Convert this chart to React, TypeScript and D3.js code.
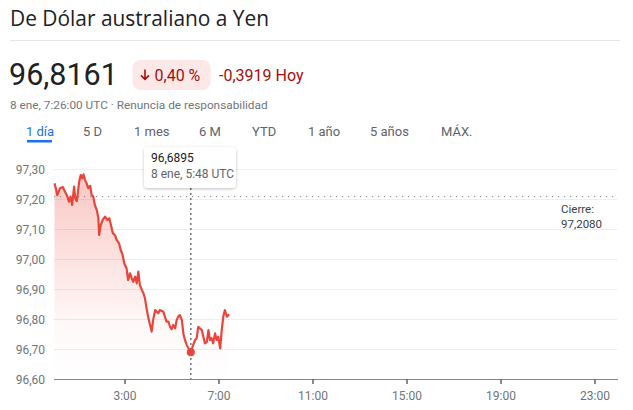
import React from "react";
import * as d3 from "d3";

const minutes = [0,4,7,14,21,27,33,37,41,45,50,53,57,63,67,71,74,78,82,86,91,95,99,103,108,112,114,118,123,129,135,140,143,149,154,159,165,169,174,178,184,188,193,197,201,206,210,214,218,223,227,231,235,239,244,248,252,257,261,265,269,274,278,282,286,291,295,299,303,308,312,316,320,325,329,333,338,342,346,350,354,359,363,367,371,376,380,384,389,393,397,401,405,410,414,418,423,427,431,435,440,444,446];
const values = [97.252,97.233,97.213,97.236,97.240,97.224,97.208,97.191,97.208,97.180,97.241,97.202,97.193,97.258,97.280,97.269,97.282,97.263,97.252,97.236,97.244,97.213,97.208,97.180,97.163,97.136,97.080,97.113,97.130,97.141,97.130,97.136,97.119,97.086,97.080,97.063,97.052,97.030,97.013,96.986,96.969,96.930,96.952,96.936,96.924,96.941,96.919,96.958,96.913,96.897,96.886,96.869,96.836,96.808,96.780,96.758,96.797,96.830,96.824,96.819,96.830,96.827,96.824,96.808,96.791,96.791,96.774,96.766,96.780,96.769,96.797,96.808,96.813,96.797,96.752,96.730,96.713,96.702,96.691,96.697,96.713,96.730,96.736,96.774,96.769,96.763,96.741,96.719,96.724,96.763,96.730,96.736,96.719,96.752,96.730,96.741,96.702,96.763,96.808,96.830,96.808,96.813,96.816];

const yTicks = [96.6, 96.7, 96.8, 96.9, 97.0, 97.1, 97.2, 97.3];
const xTickMinutes = [180, 420, 660, 900, 1140, 1380];
const xTickLabels = ["3:00", "7:00", "11:00", "15:00", "19:00", "23:00"];
const tabs = ["1 día", "5 D", "1 mes", "6 M", "YTD", "1 año", "5 años", "MÁX."];
const tabX = [26, 83, 134, 199, 252, 308, 370, 441];

const title = "De Dólar australiano a Yen";
const price = "96,8161";
const changePct = "0,40 %";
const changeAbs = "-0,3919 Hoy";
const subtitle = "8 ene, 7:26:00 UTC · Renuncia de responsabilidad";
const prevClose = 97.208;
const prevCloseLabel = "97,2080";
const hoverMinute = 348;
const hoverValue = 96.6895;
const hoverValueLabel = "96,6895";
const hoverTimeLabel = "8 ene, 5:48 UTC";

const FONT = "Roboto, Arial, sans-serif";

export default function App() {
  const x = d3.scaleLinear().domain([0, 1440]).range([54.5, 618.5]);
  const y = d3.scaleLinear().domain([96.6, 97.3]).range([379, 169]);
  const pts: [number, number][] = minutes.map((m, i) => [m, values[i]]);
  const line = d3.line<[number, number]>().x(d => x(d[0])).y(d => y(d[1]))(pts) || "";
  const area = d3.area<[number, number]>().x(d => x(d[0])).y0(y(96.6)).y1(d => y(d[1]))(pts) || "";
  const fmt = (v: number) => v.toFixed(2).replace(".", ",");
  const hx = x(hoverMinute);
  const hy = y(hoverValue);
  return (
    <svg width={633} height={410} style={{ position: "absolute", left: 0, top: 0, background: "#fff" }} fontFamily={FONT}>
      <defs>
        <linearGradient id="fillGrad" gradientUnits="userSpaceOnUse" x1={0} y1={175} x2={0} y2={379}>
          <stop offset="0" stopColor="#ea4335" stopOpacity={0.3} />
          <stop offset="0.75" stopColor="#ea4335" stopOpacity={0.03} />
          <stop offset="1" stopColor="#ea4335" stopOpacity={0} />
        </linearGradient>
        <filter id="shadow" x="-20%" y="-30%" width="140%" height="170%">
          <feDropShadow dx={0} dy={1} stdDeviation={1.5} floodColor="#000" floodOpacity={0.25} />
        </filter>
      </defs>
      <text x={10} y={26} fontSize={20.9} fontFamily="'Open Sans', Roboto, sans-serif" fill="#202124">{title}</text>
      <line x1={10} x2={620} y1={40.5} y2={40.5} stroke="#e3e5e8" />
      <text x={9} y={85} fontSize={30.5} fill="#202124">{price}</text>
      <rect x={132.5} y={60} width={78} height={30} rx={8} fill="#fce8e6" />
      <path d="M145,69.5 V79.3 M141,75.4 L145,79.4 L149,75.4" fill="none" stroke="#a50e0e" strokeWidth={1.6} />
      <text x={154.5} y={80.5} fontSize={16} fill="#a50e0e">{changePct}</text>
      <text x={219} y={80.5} fontSize={16} fill="#a50e0e">{changeAbs}</text>
      <text x={10} y={108.5} fontSize={11.8} fill="#70757a">{subtitle}</text>
      {tabs.map((t, i) => (
        <text key={t} x={tabX[i]} y={136} fontSize={13} fill={i === 0 ? "#1a73e8" : "#5f6368"}>{t}</text>
      ))}
      <rect x={27} y={140} width={25} height={2.5} fill="#1a73e8" />

      {yTicks.slice(1).map(v => (
        <line key={v} x1={54} x2={617} y1={Math.round(y(v)) + 0.5} y2={Math.round(y(v)) + 0.5} stroke="#eceef0" />
      ))}
      {yTicks.map(v => (
        <text key={"l" + v} x={45} y={y(v) + 4.5} fontSize={12} textAnchor="end" fill="#70757a">{fmt(v)}</text>
      ))}
      <path d={area} fill="url(#fillGrad)" />
      <line x1={54} x2={618} y1={y(prevClose)} y2={y(prevClose)} stroke="#80868b" strokeWidth={1} strokeDasharray="1.2,4.8" />
      <text x={561} y={213} fontSize={11.5} fill="#3c4043">Cierre:</text>
      <text x={561} y={228} fontSize={11.5} fill="#3c4043">{prevCloseLabel}</text>
      <line x1={hx} x2={hx} y1={188} y2={379} stroke="#70757a" strokeWidth={1.5} strokeDasharray="2,3" />
      <path d={line} fill="none" stroke="#e8453c" strokeWidth={2.2} strokeLinejoin="round" />
      <circle cx={hx} cy={hy} r={4} fill="#e8453c" />
      <line x1={54} x2={618} y1={379.5} y2={379.5} stroke="#80868b" />
      {xTickMinutes.map((m, i) => (
        <g key={m}>
          <line x1={x(m)} x2={x(m)} y1={379} y2={384} stroke="#5f6368" strokeWidth={1.5} />
          <text x={x(m)} y={400} fontSize={12} textAnchor="middle" fill="#70757a">{xTickLabels[i]}</text>
        </g>
      ))}
      <g filter="url(#shadow)">
        <rect x={144} y={147} width={92} height={41} rx={4} fill="#fff" />
      </g>
      <text x={151} y={162} fontSize={12} fill="#202124">{hoverValueLabel}</text>
      <text x={151} y={178} fontSize={12} fill="#5f6368">{hoverTimeLabel}</text>
    </svg>
  );
}
